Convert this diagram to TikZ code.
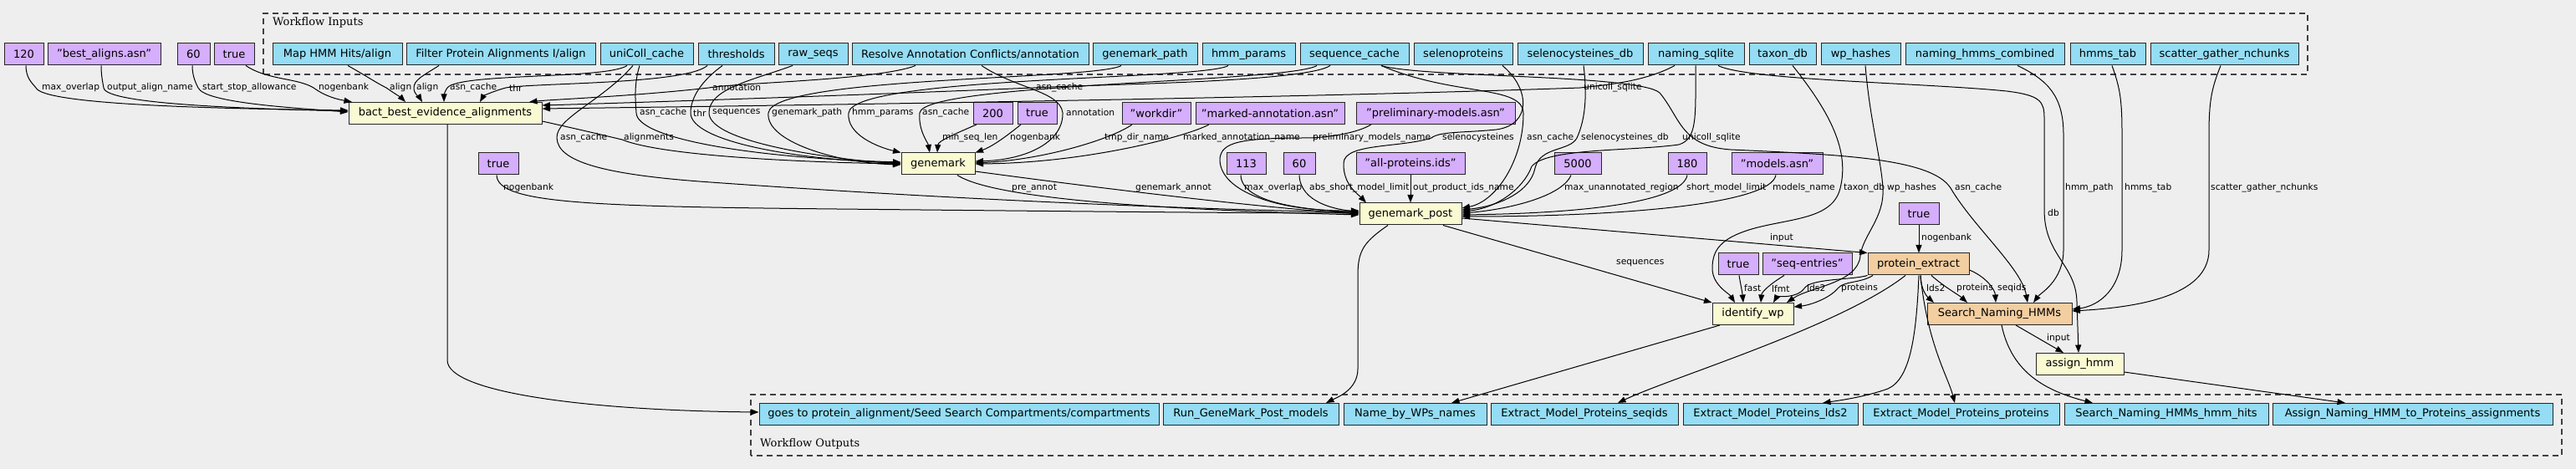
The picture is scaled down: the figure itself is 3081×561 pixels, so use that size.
\documentclass[tikz,border=0pt]{standalone}
\usepackage{fontspec}
\setmainfont{DejaVu Sans}
\newfontfamily\seriffont{DejaVu Serif}
\usetikzlibrary{arrows.meta}
\definecolor{bgc}{HTML}{EEEEEE}
\definecolor{purp}{HTML}{D5AEFC}
\definecolor{blu}{HTML}{94DDF4}
\definecolor{yel}{HTML}{FAFAD2}
\definecolor{ora}{HTML}{F3CEA1}
\tikzset{
  box/.style={draw=black!85, line width=1pt, inner sep=0pt, minimum height=26pt, font=\fontsize{13}{15}\selectfont},
  dflt/.style={box, fill=purp},
  inp/.style={box, fill=blu},
  stp/.style={box, fill=yel},
  sub/.style={box, fill=ora},
  edge/.style={line width=1pt, -{Triangle[length=9.5pt,width=7pt]}},
  lbl/.style={font=\fontsize{10.7}{12}\selectfont, anchor=west, inner sep=0pt},
  clus/.style={draw=black!75, line width=1.2pt, dash pattern=on 7pt off 5pt},
  cluslbl/.style={anchor=west, inner sep=0pt, font=\seriffont\fontsize{13}{15}\selectfont},
}
\newcommand\bx[6]{\node[#5, minimum width={#3-#2}] (#1) at ({(#2+#3)/2},#4) {#6};}
\begin{document}
\begin{tikzpicture}[x=1pt,y=1pt]
\fill[bgc] (0,0) rectangle (3081,561);
\useasboundingbox (0,0) rectangle (3081,561);
% clusters
\draw[clus] (315,472) rectangle (2760,545);
\node[cluslbl] (tin) at (326,534) {Workflow Inputs};
\draw[clus] (898,16) rectangle (3064,89);
\node[cluslbl] (tout) at (909,30) {Workflow Outputs};
% top row
\bx{d120}{5}{52}{496}{dflt}{120}
\bx{dbest}{57}{192}{496}{dflt}{"best\_aligns.asn"}
\bx{d60a}{212}{251}{496}{dflt}{60}
\bx{dtrue1}{256}{304}{496}{dflt}{true}
\bx{iMap}{326}{481}{496}{inp}{Map HMM Hits/align}
\bx{iFilter}{486}{712}{496}{inp}{Filter Protein Alignments I/align}
\bx{iUni}{718}{829}{496}{inp}{uniColl\_cache}
\bx{iThr}{835}{926}{496}{inp}{thresholds}
\bx{iRaw}{931}{1014}{496}{inp}{raw\_seqs}
\bx{iRes}{1019}{1302}{496}{inp}{Resolve Annotation Conflicts/annotation}
\bx{iGmp}{1307}{1432}{496}{inp}{genemark\_path}
\bx{iHmmp}{1438}{1549}{496}{inp}{hmm\_params}
\bx{iSeq}{1555}{1685}{496}{inp}{sequence\_cache}
\bx{iSelp}{1691}{1809}{496}{inp}{selenoproteins}
\bx{iSeldb}{1815}{1965}{496}{inp}{selenocysteines\_db}
\bx{iNsq}{1971}{2086}{496}{inp}{naming\_sqlite}
\bx{iTax}{2092}{2172}{496}{inp}{taxon\_db}
\bx{iWp}{2178}{2273}{496}{inp}{wp\_hashes}
\bx{iNhc}{2279}{2469}{496}{inp}{naming\_hmms\_combined}
\bx{iHt}{2476}{2566}{496}{inp}{hmms\_tab}
\bx{iSg}{2572}{2749}{496}{inp}{scatter\_gather\_nchunks}
% bact row
\bx{sBact}{417}{648}{425.5}{stp}{bact\_best\_evidence\_alignments}
\bx{d200}{1164}{1211}{425.5}{dflt}{200}
\bx{dtrue2}{1217}{1264}{425.5}{dflt}{true}
\bx{dWork}{1342}{1424}{425.5}{dflt}{"workdir"}
\bx{dMarked}{1430}{1608}{425.5}{dflt}{"marked-annotation.asn"}
\bx{dPrelim}{1622}{1812}{425.5}{dflt}{"preliminary-models.asn"}
% genemark row
\bx{dtrue3}{572}{620}{365}{dflt}{true}
\bx{sGm}{1078}{1166}{365}{stp}{genemark}
\bx{d113}{1467}{1514}{365}{dflt}{113}
\bx{d60b}{1535}{1573}{365}{dflt}{60}
\bx{dAll}{1622}{1752}{365}{dflt}{"all-proteins.ids"}
\bx{d5000}{1859}{1915}{365}{dflt}{5000}
\bx{d180}{1995}{2041}{365}{dflt}{180}
\bx{dModels}{2071}{2180}{365}{dflt}{"models.asn"}
% genemark_post row
\bx{sGmp}{1626}{1748}{305}{stp}{genemark\_post}
\bx{dtrue4}{2271}{2319}{305}{dflt}{true}
% protein_extract row
\bx{dtrue5}{2055}{2103}{245}{dflt}{true}
\bx{dSeqe}{2108}{2215}{245}{dflt}{"seq-entries"}
\bx{sPe}{2234}{2355}{245}{sub}{protein\_extract}
% identify row
\bx{sIw}{2048}{2145}{185.5}{stp}{identify\_wp}
\bx{sSn}{2305}{2478}{185.5}{sub}{Search\_Naming\_HMMs}
\bx{sAh}{2435}{2540}{125.5}{stp}{assign\_hmm}
% outputs
\bx{oGoes}{908}{1386}{65.5}{inp}{goes to protein\_alignment/Seed Search Compartments/compartments}
\bx{oRun}{1391}{1601}{65.5}{inp}{Run\_GeneMark\_Post\_models}
\bx{oName}{1607}{1778}{65.5}{inp}{Name\_by\_WPs\_names}
\bx{oSeqids}{1783}{2007}{65.5}{inp}{Extract\_Model\_Proteins\_seqids}
\bx{oLds2}{2013}{2222}{65.5}{inp}{Extract\_Model\_Proteins\_lds2}
\bx{oProt}{2228}{2463}{65.5}{inp}{Extract\_Model\_Proteins\_proteins}
\bx{oHits}{2469}{2713}{65.5}{inp}{Search\_Naming\_HMMs\_hmm\_hits}
\bx{oAssign}{2718}{3053}{65.5}{inp}{Assign\_Naming\_HMM\_to\_Proteins\_assignments}

% ---- edges into bact
\draw[edge] (d120.south -| 31,0) .. controls (31,468) and (38,462) .. (43,456) .. controls (52,436) and (250,431) .. (sBact.west |- 0,429);
\draw[edge] (dbest.south -| 121,0) .. controls (121,470) and (123,462) .. (124,456) .. controls (126,436) and (300,431) .. (sBact.west |- 0,428);
\draw[edge] (d60a.south -| 230,0) .. controls (230,470) and (234,462) .. (237,456) .. controls (245,438) and (350,432) .. (sBact.west |- 0,427);
\draw[edge] (dtrue1.south -| 294,0) .. controls (320,465) and (355,468) .. (375,456) .. controls (390,445) and (405,442) .. (sBact.north west -| 421,0);
\draw[edge] (iMap.south -| 416,0) .. controls (435,472) and (450,462) .. (462,456) .. controls (472,449) and (480,444) .. (sBact.north -| 485,0);
\draw[edge] (iFilter.south -| 525,0) .. controls (505,470) and (495,465) .. (495,456) .. controls (495,448) and (502,444) .. (sBact.north -| 505,0);
\draw[edge] (iUni.south -| 750,0) .. controls (725,466) and (550,474) .. (535,456) .. controls (531,450) and (531,446) .. (sBact.north -| 531,0);
\draw[edge] (iThr.south -| 846,0) .. controls (820,460) and (640,462) .. (605,456) .. controls (590,452) and (578,446) .. (sBact.north -| 574,0);
\draw[edge] (iRes.south -| 1095,0) .. controls (1050,465) and (880,462) .. (848,456) .. controls (760,446) and (660,442) .. (sBact.north -| 633,0);
\draw[edge] (iSeq.south -| 1591,0) .. controls (1560,462) and (1300,460) .. (1236,456) .. controls (1000,446) and (720,437) .. (sBact.east |- 0,435);
\draw[edge] (iNsq.south -| 2003,0) .. controls (1970,465) and (1930,460) .. (1890,456) .. controls (1500,442) and (800,433) .. (sBact.east |- 0,431);
\node[lbl] (la1) at (50,456) {max\_overlap};
\node[lbl] (la2) at (128,456) {output\_align\_name};
\node[lbl] (la3) at (242,456) {start\_stop\_allowance};
\node[lbl] (la4) at (381,456) {nogenbank};
\node[lbl] (la5) at (466,456) {align};
\node[lbl] (la6) at (498,456) {align};
\node[lbl] (la7) at (538,456) {asn\_cache};
\node[lbl] (la8) at (609,456) {thr};
\node[lbl] (la9) at (852,456) {annotation};
\node[lbl] (la10) at (1239,456) {asn\_cache};
\node[lbl] (la11) at (1894,456) {unicoll\_sqlite};

% ---- edges into genemark
\draw[edge] (iUni.south -| 765,0) .. controls (758,460) and (760,440) .. (761,426) .. controls (762,395) and (900,372) .. (sGm.west |- 0,367);
\draw[edge] (iThr.south -| 864,0) .. controls (840,465) and (826,445) .. (826,426) .. controls (826,392) and (950,370) .. (sGm.west |- 0,366);
\draw[edge] (iRaw.south -| 948,0) .. controls (900,465) and (848,455) .. (848,426) .. controls (848,390) and (1000,370) .. (sGm.west |- 0,365);
\draw[edge] (iGmp.south -| 1341,0) .. controls (1310,465) and (925,470) .. (919,426) .. controls (915,392) and (1000,366) .. (sGm.west |- 0,364);
\draw[edge] (iHmmp.south -| 1469,0) .. controls (1440,465) and (1020,470) .. (1015,426) .. controls (1012,400) and (1050,385) .. (sGm.north west);
\draw[edge] (iSeq.south -| 1575,0) .. controls (1540,462) and (1105,462) .. (1100,426) .. controls (1098,405) and (1110,390) .. (sGm.north -| 1112,0);
\draw[edge] (d200.south -| 1168,0) .. controls (1140,400) and (1122,392) .. (sGm.north -| 1121,0);
\draw[edge] (dtrue2.south -| 1221,0) .. controls (1200,395) and (1185,385) .. (sGm.north east);
\draw[edge] (iRes.south -| 1174,0) .. controls (1215,455) and (1268,452) .. (1271,426) .. controls (1272,392) and (1230,370) .. (sGm.east |- 0,368);
\draw[edge] (dWork.south -| 1354,0) .. controls (1330,395) and (1250,370) .. (sGm.east |- 0,366);
\draw[edge] (dMarked.south -| 1446,0) .. controls (1420,398) and (1300,366) .. (sGm.east |- 0,365);
\draw[edge] (sBact.east |- 0,416) .. controls (720,400) and (735,396) .. (744,394) .. controls (790,375) and (950,367) .. (sGm.west |- 0,365);
\node[lbl] (lb1) at (765,426) {asn\_cache};
\node[lbl] (lb2) at (829,426) {thr};
\node[lbl] (lb3) at (852,426) {sequences};
\node[lbl] (lb4) at (923,426) {genemark\_path};
\node[lbl] (lb5) at (1019,426) {hmm\_params};
\node[lbl] (lb6) at (1103,426) {asn\_cache};
\node[lbl] (lb7) at (1127,396) {min\_seq\_len};
\node[lbl] (lb8) at (1208,396) {nogenbank};
\node[lbl] (lb9) at (1275,426) {annotation};
\node[lbl] (lb10) at (1321,396) {tmp\_dir\_name};
\node[lbl] (lb11) at (1415,396) {marked\_annotation\_name};
\node[lbl] (lb12) at (746,396) {alignments};

% ---- edges into genemark_post
\draw[edge] (dtrue3.south -| 594,0) .. controls (595,318) and (700,314) .. (1000,311) .. controls (1300,308) and (1500,306) .. (sGmp.west |- 0,306);
\draw[edge] (iUni.south -| 757,0) .. controls (720,440) and (665,420) .. (666,396) .. controls (667,368) and (720,352) .. (850,343) .. controls (1200,318) and (1500,309) .. (sGmp.west |- 0,307);
\draw[edge] (sGm.south -| 1145,0) .. controls (1190,322) and (1400,310) .. (sGmp.west |- 0,304);
\draw[edge] (sGm.east |- 0,356) .. controls (1300,338) and (1500,313) .. (sGmp.west |- 0,305);
\draw[edge] (d113.south -| 1484,0) .. controls (1485,318) and (1560,310) .. (sGmp.west |- 0,307);
\draw[edge] (d60b.south -| 1554,0) .. controls (1555,318) and (1600,310) .. (sGmp.west |- 0,308);
\draw[edge] (dAll) -- (sGmp);
\draw[edge] (dPrelim.south -| 1640,0) .. controls (1620,400) and (1580,396) .. (1562,396) .. controls (1480,396) and (1462,390) .. (1459,372) .. controls (1457,335) and (1520,308) .. (sGmp.west |- 0,309);
\draw[edge] (iSelp.south -| 1797,0) .. controls (1830,455) and (1832,412) .. (1790,406) .. controls (1750,402) and (1722,404) .. (1712,396) .. controls (1675,384) and (1608,390) .. (1607,366) .. controls (1606,340) and (1625,328) .. (sGmp.north west -| 1634,0);
\draw[edge] (iSeq.south -| 1652,0) .. controls (1740,445) and (1822,460) .. (1822,425) .. controls (1822,370) and (1790,320) .. (sGmp.east |- 0,312);
\draw[edge] (iSeldb.south -| 1894,0) .. controls (1898,450) and (1897,420) .. (1886,396) .. controls (1878,380) and (1842,386) .. (1836,360) .. controls (1830,330) and (1790,314) .. (sGmp.east |- 0,310);
\draw[edge] (iNsq.south -| 2028,0) .. controls (2028,420) and (2030,395) .. (2008,388) .. controls (1950,380) and (1850,384) .. (1832,362) .. controls (1822,335) and (1790,312) .. (sGmp.east |- 0,308);
\draw[edge] (d5000.south -| 1879,0) .. controls (1868,325) and (1800,310) .. (sGmp.east |- 0,306);
\draw[edge] (d180.south -| 2018,0) .. controls (2012,320) and (1900,306) .. (sGmp.east |- 0,304);
\draw[edge] (dModels.south -| 2124,0) .. controls (2118,318) and (1950,302) .. (sGmp.east |- 0,302);
\node[lbl] (lc1) at (602,336) {nogenbank};
\node[lbl] (lc2) at (670,396) {asn\_cache};
\node[lbl] (lc3) at (1210,336) {pre\_annot};
\node[lbl] (lc4) at (1358,336) {genemark\_annot};
\node[lbl] (lc5) at (1488,336) {max\_overlap};
\node[lbl] (lc6) at (1566,336) {abs\_short\_model\_limit};
\node[lbl] (lc7) at (1690,336) {out\_product\_ids\_name};
\node[lbl] (lc8) at (1570,396) {preliminary\_models\_name};
\node[lbl] (lc9) at (1725,396) {selenocysteines};
\node[lbl] (lc10) at (1826,396) {asn\_cache};
\node[lbl] (lc11) at (1891,396) {selenocysteines\_db};
\node[lbl] (lc12) at (2012,396) {unicoll\_sqlite};
\node[lbl] (lc13) at (1871,336) {max\_unannotated\_region};
\node[lbl] (lc14) at (2017,336) {short\_model\_limit};
\node[lbl] (lc15) at (2120,336) {models\_name};

% ---- edges into protein_extract
\draw[edge] (sGmp.east |- 0,300) -- (sPe.north west);
\draw[edge] (dtrue4.south) -- (dtrue4.south |- sPe.north);
\node[lbl] (ld1) at (2117,276) {input};
\node[lbl] (ld2) at (2298,276) {nogenbank};

% ---- edges into identify_wp
\draw[edge] (sGmp.south -| 1726,0) -- (sIw.north west);
\draw[edge] (dtrue5.south -| 2080,0) .. controls (2082,220) and (2084,210) .. (sIw.north -| 2085,0);
\draw[edge] (dSeqe.south -| 2134,0) .. controls (2118,222) and (2107,212) .. (sIw.north -| 2106,0);
\draw[edge] (sPe.south west) .. controls (2215,226) and (2165,228) .. (2158,216) .. controls (2150,204) and (2125,206) .. (sIw.north -| 2121,0);
\draw[edge] (sPe.south -| 2240,0) .. controls (2225,222) and (2205,225) .. (2198,216) .. controls (2188,204) and (2165,196) .. (sIw.east |- 0,194);
\draw[edge] (iTax.south -| 2144,0) .. controls (2190,425) and (2212,380) .. (2201,336) .. controls (2192,298) and (2140,300) .. (2095,287) .. controls (2058,276) and (2048,262) .. (2048,240) .. controls (2048,220) and (2068,210) .. (sIw.north -| 2075,0);
\draw[edge] (iWp.south -| 2231,0) .. controls (2236,420) and (2250,370) .. (2252,336) .. controls (2254,300) and (2228,280) .. (2225,255) .. controls (2222,222) and (2165,218) .. (sIw.north -| 2137,0);
\node[lbl] (le1) at (1933,246) {sequences};
\node[lbl] (le2) at (2086,216) {fast};
\node[lbl] (le3) at (2119,216) {lfmt};
\node[lbl] (le4) at (2161,216) {lds2};
\node[lbl] (le5) at (2202,216) {proteins};
\node[lbl] (le6) at (2205,336) {taxon\_db};
\node[lbl] (le7) at (2257,336) {wp\_hashes};

% ---- edges into Search_Naming_HMMs
\draw[edge] (sPe.south -| 2297,0) .. controls (2297,215) and (2305,206) .. (sSn.north -| 2313,0);
\draw[edge] (sPe.south -| 2310,0) .. controls (2325,218) and (2343,208) .. (sSn.north -| 2353,0);
\draw[edge] (sPe.east |- 0,238) .. controls (2375,230) and (2386,215) .. (sSn.north -| 2387,0);
\draw[edge] (iSeq.south -| 1652,0) .. controls (1700,468) and (1960,472) .. (1985,450) .. controls (2010,420) and (2010,386) .. (2070,382) .. controls (2200,376) and (2310,372) .. (2333,336) .. controls (2360,290) and (2418,240) .. (sSn.north -| 2425,0);
\draw[edge] (iNhc.south -| 2413,0) .. controls (2450,465) and (2468,445) .. (2468,400) -- (2468,262) .. controls (2468,225) and (2440,210) .. (sSn.north -| 2432,0);
\draw[edge] (iHt.south -| 2526,0) .. controls (2536,455) and (2538,440) .. (2538,400) -- (2538,262) .. controls (2538,215) and (2510,195) .. (sSn.east |- 0,191);
\draw[edge] (iSg.south -| 2656,0) .. controls (2645,455) and (2642,440) .. (2642,400) -- (2642,262) .. controls (2642,205) and (2550,193) .. (sSn.east |- 0,189);
\node[lbl] (lf1) at (2304,216) {lds2};
\node[lbl] (lf2) at (2340,216) {proteins};
\node[lbl] (lf3) at (2389,216) {seqids};
\node[lbl] (lf4) at (2338,336) {asn\_cache};
\node[lbl] (lf5) at (2470,336) {hmm\_path};
\node[lbl] (lf6) at (2541,336) {hmms\_tab};
\node[lbl] (lf7) at (2644,336) {scatter\_gather\_nchunks};

% ---- edges into assign_hmm
\draw[edge] (sSn.south -| 2411,0) -- (sAh.north -| 2468,0);
\draw[edge] (iNsq.south -| 2055,0) .. controls (2090,465) and (2300,462) .. (2400,452) .. controls (2440,447) and (2445,440) .. (2445,420) -- (2445,310) .. controls (2445,255) and (2483,245) .. (2484,200) -- (sAh.north -| 2486,0);
\node[lbl] (lg1) at (2448,156) {input};
\node[lbl] (lg2) at (2449,306) {db};

% ---- outputs
\draw[edge] (sBact.south -| 535,0) -- (535,130) .. controls (535,92) and (700,70) .. (oGoes.west |- 0,68);
\draw[edge] (sGmp.south -| 1660,0) .. controls (1632,272) and (1624,262) .. (1624,232) -- (1624,120) .. controls (1624,95) and (1600,86) .. (oRun.north -| 1586,0);
\draw[edge] (sIw.south -| 2057,0) -- (oName.north -| 1736,0);
\draw[edge] (sPe.south -| 2279,0) .. controls (2200,170) and (2000,110) .. (oSeqids.north -| 1935,0);
\draw[edge] (sPe.south -| 2295,0) .. controls (2292,160) and (2285,108) .. (2258,96) .. controls (2230,86) and (2200,82) .. (oLds2.north -| 2180,0);
\draw[edge] (sPe.south -| 2297,0) .. controls (2305,150) and (2330,110) .. (oProt.north -| 2338,0);
\draw[edge] (sSn.south -| 2394,0) .. controls (2405,120) and (2440,95) .. (oHits.north -| 2503,0);
\draw[edge] (sAh.east |- 0,116) -- (oAssign.north -| 2805,0);
\end{tikzpicture}
\end{document}
